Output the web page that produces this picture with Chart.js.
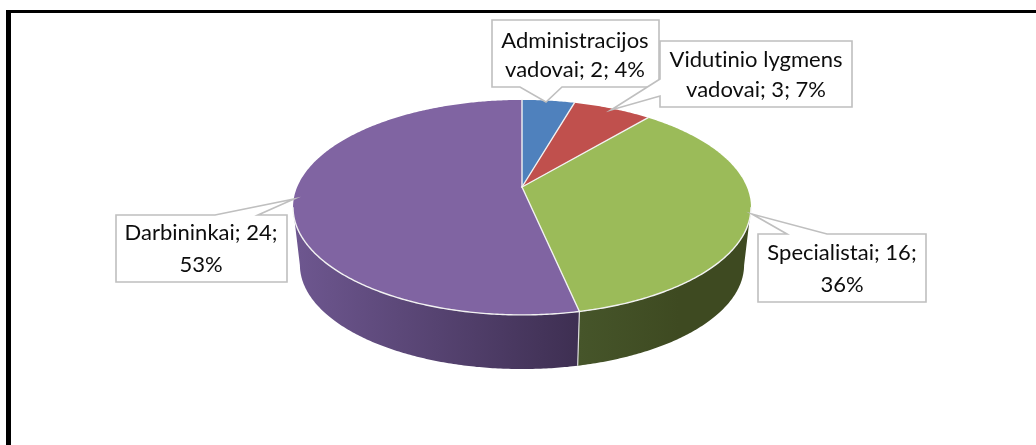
<!DOCTYPE html>
<html><head><meta charset="utf-8">
<style>html,body{margin:0;padding:0;background:#fff}canvas{display:block}</style>
<script src="https://cdn.jsdelivr.net/npm/chart.js@4/dist/chart.umd.js"></script>
</head><body><canvas id="c" width="1036" height="445"></canvas>
<script>
const categories = ["Administracijos vadovai","Vidutinio lygmens vadovai","Specialistai","Darbininkai"];
const values = [2,3,16,24];
const percents = [4,7,36,53];
const labelLines = [
  ["Administracijos","vadovai; 2; 4%"],
  ["Vidutinio lygmens","vadovai; 3; 7%"],
  ["Specialistai; 16;","36%"],
  ["Darbininkai; 24;","53%"]
];
const topColors = ["#4f81bd","#c0504d","#9bbb59","#8064a2"];
const sideLeft = ["#2f4d71","#73302e","#46552a","#6e5790"];
const sideRight = ["#2f4d71","#73302e","#3e4a21","#3e2f52"];
const sideRange = [[293,579],[293,579],[579,679],[293,579]];

// Perspective projection of the pie disc
const P = {cx:522, cy:187, rx:224.8, ry:103.6, k:0.19, depthY:58, depthS:0.97};
function proj(a, bottom){
  const X=Math.cos(a), Y=Math.sin(a), w=1-P.k*Y, s=bottom?P.depthS:1;
  return {x:P.cx+s*P.rx*X/w, y:P.cy+(bottom?P.depthY:0)+s*P.ry*Y/w};
}
function frontSteps(a0,a1){
  const out=[],n=Math.ceil((a1-a0)/0.01);
  for(let j=0;j<=n;j++){const a=a0+(a1-a0)*j/n;if(Math.sin(a)>=P.k)out.push(a);}
  return out;
}

const boxes = [
  {path:[[492,20],[659,20],[659,87],[562,87],[546,102],[520,87],[492,87]],text:[[575,41],[575,70]]},
  {path:[[660,41],[852,41],[852,107],[660,107],[660,96],[611,110],[660,79]],text:[[756,60],[756,90]]},
  {path:[[758,234],[787,234],[752,214],[827,234],[926,234],[926,302],[758,302]],text:[[842,253],[842,285]]},
  {path:[[116,215],[215,215],[294,199],[258,215],[287,215],[287,282],[116,282]],text:[[201,233],[201,265]]}
];

const pie3d = {
  id:"pie3d",
  beforeDraw(chart){
    const c=chart.ctx;
    c.save();
    c.fillStyle="#fff";c.fillRect(0,0,chart.width,chart.height);
    c.fillStyle="#000";
    c.fillRect(6,10,chart.width-6,3);
    c.fillRect(6,10,5,chart.height-10);
    c.restore();
  },
  beforeDatasetDraw(chart,args){
    const c=chart.ctx, arcs=chart.getDatasetMeta(args.index).data;
    c.save();
    // side walls: only the part that faces the viewer
    arcs.forEach((arc,i)=>{
      const steps=frontSteps(arc.startAngle,arc.endAngle);
      if(steps.length<2) return;
      const g=c.createLinearGradient(sideRange[i][0],0,sideRange[i][1],0);
      g.addColorStop(0,sideLeft[i]);g.addColorStop(1,sideRight[i]);
      c.fillStyle=g;
      c.beginPath();
      steps.forEach((a,j)=>{const p=proj(a);j?c.lineTo(p.x,p.y):c.moveTo(p.x,p.y);});
      steps.slice().reverse().forEach(a=>{const p=proj(a,true);c.lineTo(p.x,p.y);});
      c.closePath();
      c.fill();
    });
    // front seams
    arcs.forEach(arc=>{
      const e=arc.endAngle;
      if(Math.sin(e)>0.1){
        const p=proj(e),q=proj(e,true);
        c.strokeStyle="#dcdcdc";c.lineWidth=1.2;
        c.beginPath();c.moveTo(p.x,p.y);c.lineTo(q.x,q.y);c.stroke();
      }
    });
    // top faces
    arcs.forEach((arc,i)=>{
      const a0=arc.startAngle,a1=arc.endAngle,n=Math.ceil((a1-a0)/0.01);
      c.beginPath();c.moveTo(P.cx,P.cy);
      for(let j=0;j<=n;j++){const p=proj(a0+(a1-a0)*j/n);c.lineTo(p.x,p.y);}
      c.closePath();
      c.fillStyle=topColors[i];c.fill();
    });
    // white spokes and front rim
    c.strokeStyle="#f2f2f2";c.lineWidth=1.4;c.lineCap="round";
    arcs.forEach(arc=>{
      const p=proj(arc.startAngle);
      c.beginPath();c.moveTo(P.cx,P.cy);c.lineTo(p.x,p.y);c.stroke();
      const steps=frontSteps(arc.startAngle,arc.endAngle);
      if(steps.length<2) return;
      c.beginPath();
      steps.forEach((a,j)=>{const q=proj(a);j?c.lineTo(q.x,q.y):c.moveTo(q.x,q.y);});
      c.stroke();
    });
    c.restore();
    return false;
  },
  afterDatasetsDraw(chart){
    const c=chart.ctx;
    c.save();
    boxes.forEach((b,i)=>{
      c.beginPath();
      b.path.forEach((p,j)=>j?c.lineTo(p[0],p[1]):c.moveTo(p[0],p[1]));
      c.closePath();
      c.fillStyle="#fff";c.fill();
      c.strokeStyle="#bfbfbf";c.lineWidth=1.6;c.lineJoin="miter";c.stroke();
      c.fillStyle="#0d0d0d";c.font="22px Lato";c.letterSpacing="0.01px";c.textAlign="center";c.textBaseline="middle";
      labelLines[i].forEach((t,l)=>c.fillText(t,b.text[l][0],b.text[l][1]));
    });
    c.restore();
  }
};

new Chart(document.getElementById("c"),{
  type:"pie",
  data:{labels:categories,datasets:[{data:values,backgroundColor:topColors,borderColor:"#fff"}]},
  options:{responsive:false,animation:false,plugins:{legend:{display:false},tooltip:{enabled:false}}},
  plugins:[pie3d]
});
</script></body></html>
